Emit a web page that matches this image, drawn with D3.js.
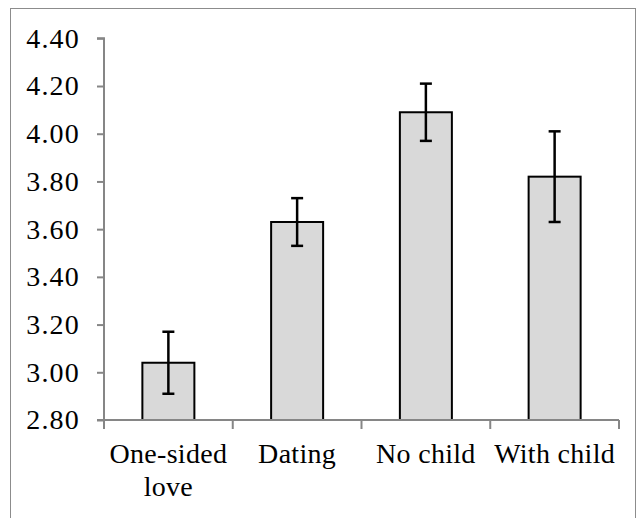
<!DOCTYPE html>
<html><head><meta charset="utf-8">
<script src="https://cdn.jsdelivr.net/npm/d3@7"></script>
<style>body{margin:0;background:#fff}svg{display:block}</style>
</head><body>
<script>
const categories = [["One-sided","love"],["Dating"],["No child"],["With child"]];
const means = [3.04, 3.63, 4.09, 3.82];
const upper = [3.17, 3.73, 4.21, 4.01];
const lower = [2.91, 3.53, 3.97, 3.63];
const yTicks = [2.8, 3.0, 3.2, 3.4, 3.6, 3.8, 4.0, 4.2, 4.4];

const W = 638, H = 518;
const svg = d3.select("body").append("svg").attr("width", W).attr("height", H);
svg.append("rect").attr("x",10.5).attr("y",8.5).attr("width",625).attr("height",530)
  .attr("fill","none").attr("stroke","#8c8c8c").attr("stroke-width",1);

const x = d3.scaleBand().domain(d3.range(categories.length)).range([104, 619]).paddingInner(0).paddingOuter(0);
const y = d3.scaleLinear().domain([2.8, 4.4]).range([420, 38.3]);
const font = "'Liberation Serif','Times New Roman',serif";

// y axis
const ya = svg.append("g").attr("transform","translate(104,0)")
  .call(d3.axisLeft(y).tickValues(yTicks).tickFormat(d3.format(".2f")).tickSize(7).tickPadding(17));
ya.select(".domain").attr("stroke","#868686").attr("stroke-width",2).attr("d","M-7,38.3H0V420H-7");
ya.selectAll(".tick line").attr("stroke","#868686").attr("stroke-width",2);
ya.selectAll(".tick text").style("font-family",font).style("font-size","28px").style("letter-spacing","1.2px").attr("fill","#000");

// bars
const bw = 52;
svg.append("g").selectAll("rect").data(means).join("rect")
  .attr("x",(d,i)=>x(i)+x.bandwidth()/2-bw/2).attr("width",bw)
  .attr("y",d=>y(d)).attr("height",d=>y(2.8)-y(d))
  .attr("fill","#d9d9d9").attr("stroke","#000").attr("stroke-width",2);

// x axis
const xa = svg.append("g").attr("transform","translate(0,420)");
xa.append("line").attr("x1",104).attr("x2",619).attr("stroke","#868686").attr("stroke-width",2);
xa.selectAll("line.t").data(d3.range(categories.length+1)).join("line").attr("class","t")
  .attr("x1",i=>i<categories.length?x(i):619).attr("x2",i=>i<categories.length?x(i):619)
  .attr("y1",0).attr("y2",9).attr("stroke","#868686").attr("stroke-width",2);
xa.selectAll("text").data(categories).join("text")
  .attr("x",(d,i)=>x(i)+x.bandwidth()/2).attr("y",43)
  .attr("text-anchor","middle").style("font-family",font).style("font-size","28px").style("letter-spacing","0.3px").attr("fill","#000")
  .each(function(d){
    const t=d3.select(this);
    d.forEach((s,k)=>t.append("tspan").attr("x",t.attr("x")).attr("dy",k?33:0).text(s));
  });

// error bars
const eb = svg.append("g").attr("stroke","#000").attr("stroke-width",2.5);
means.forEach((m,i)=>{
  const cx = x(i)+x.bandwidth()/2;
  eb.append("line").attr("x1",cx).attr("x2",cx).attr("y1",y(upper[i])).attr("y2",y(lower[i]));
  eb.append("line").attr("x1",cx-6).attr("x2",cx+6).attr("y1",y(upper[i])).attr("y2",y(upper[i]));
  eb.append("line").attr("x1",cx-6).attr("x2",cx+6).attr("y1",y(lower[i])).attr("y2",y(lower[i]));
});
</script>
</body></html>
